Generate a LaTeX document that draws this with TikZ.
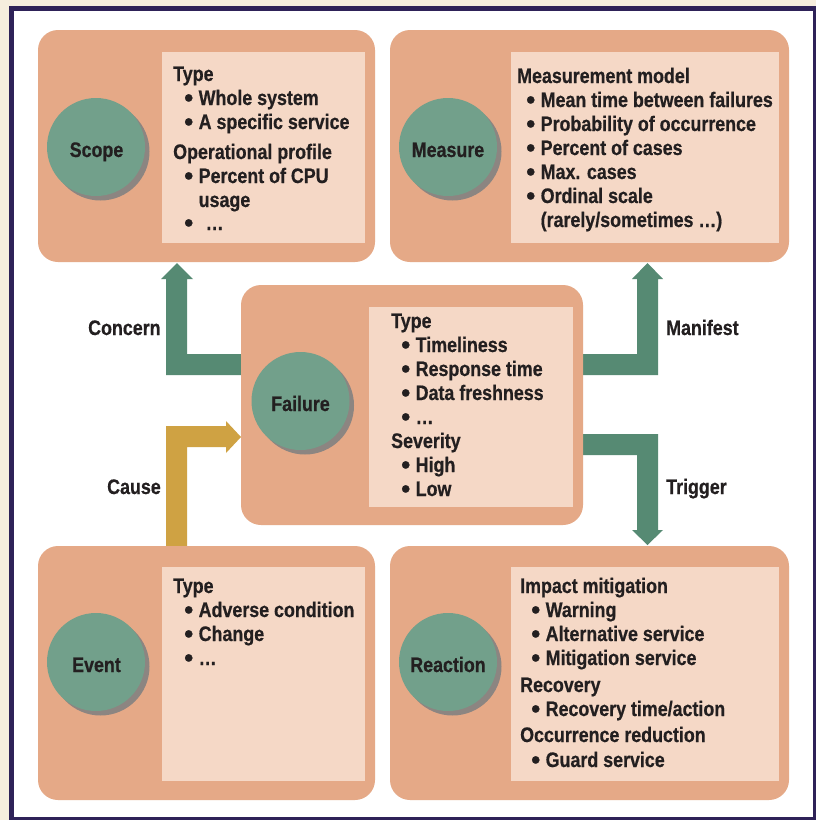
\documentclass[tikz,border=0pt]{standalone}
\usepackage{fontspec}
\usepackage{graphicx}
\setmainfont{Liberation Sans}[FakeStretch=0.85, BoldFeatures={FakeBold=0.6}]
\definecolor{frame}{HTML}{2E2258}
\definecolor{bgout}{HTML}{F6EEDE}
\definecolor{salmon}{HTML}{E5A987}
\definecolor{innerc}{HTML}{F5D8C6}
\definecolor{circc}{HTML}{72A08B}
\definecolor{shadc}{HTML}{8C8581}
\definecolor{garrow}{HTML}{568A73}
\definecolor{yarrow}{HTML}{CFA243}
\definecolor{txtc}{HTML}{231F20}
\tikzset{
  outerbox/.style={fill=salmon, rounded corners=20pt, inner sep=0pt, draw=none},
  innerbox/.style={fill=innerc, inner sep=0pt, draw=none},
  circnode/.style={circle, fill=circc, minimum size=98pt, inner sep=0pt},
  shadnode/.style={circle, fill=shadc, minimum size=98pt, inner sep=0pt},
  tx/.style={anchor=base west, inner sep=0pt, text=txtc, font=\fontsize{21}{24}\selectfont\bfseries},
  lbl/.style={anchor=base, inner sep=0pt, text=txtc, font=\fontsize{21}{24}\selectfont\bfseries},
  garr/.style={fill=garrow, draw=none},
  yarr/.style={fill=yarrow, draw=none}
}
\newcommand\bigbul{\raisebox{-1.6pt}{\scalebox{1.45}[1.25]{•}}}
\newcommand\hd[4]{\node[tx] (#1) at (#2,#3) {#4};}
\newcommand\bl[4]{\node[tx] (#1) at (#2,#3) {\makebox[14.5pt][l]{\bigbul}#4};}
\begin{document}
\begin{tikzpicture}[x=1pt,y=-1pt]
\useasboundingbox (0,0) rectangle (816,820);
\fill[bgout] (0,0) rectangle (816,820);
\fill[frame] (9,6) rectangle (816,820);
\fill[white] (14,11) rectangle (813,817);

% arrows (beneath boxes)
\fill[garr] (250,354) -- (187,354) -- (187,279) -- (193,279) -- (177,263) -- (161,279) -- (166,279) -- (166,375) -- (250,375) -- cycle;
\fill[garr] (575,354) -- (637,354) -- (637,279) -- (632,279) -- (647.5,263) -- (663,279) -- (658,279) -- (658,375) -- (575,375) -- cycle;
\fill[garr] (575,434) -- (658,434) -- (658,530) -- (663,530) -- (647.5,545) -- (632,530) -- (637,530) -- (637,455) -- (575,455) -- cycle;
\fill[yarr] (166,555) -- (166,426) -- (226,426) -- (226,421) -- (241,437) -- (226,453) -- (226,447) -- (187,447) -- (187,555) -- cycle;

% outer boxes
\node[outerbox, minimum width=337pt, minimum height=232pt] (scope) at (206.5,146) {};
\node[outerbox, minimum width=399pt, minimum height=232pt] (measure) at (589.5,146) {};
\node[outerbox, minimum width=342pt, minimum height=240pt] (failure) at (412,405) {};
\node[outerbox, minimum width=337pt, minimum height=254pt] (event) at (206.5,673) {};
\node[outerbox, minimum width=399pt, minimum height=254pt] (reaction) at (589.5,673) {};

% inner boxes
\node[innerbox, minimum width=203pt, minimum height=191pt] (scopei) at (263.5,147.5) {};
\node[innerbox, minimum width=268pt, minimum height=191pt] (measurei) at (645,147.5) {};
\node[innerbox, minimum width=204pt, minimum height=200pt] (failurei) at (471,407) {};
\node[innerbox, minimum width=203pt, minimum height=214pt] (eventi) at (263.5,674) {};
\node[innerbox, minimum width=268pt, minimum height=214pt] (reactioni) at (645,674) {};

% circles
\node[shadnode] (scopesh) at (100.5,151.5) {};
\node[circnode] (scopec) at (96,147) {};
\node[shadnode] (measuresh) at (452.5,151.5) {};
\node[circnode] (measurec) at (448,147) {};
\node[shadnode] (failuresh) at (305,405.5) {};
\node[circnode] (failurec) at (300.5,401) {};
\node[shadnode] (eventsh) at (100.5,666.5) {};
\node[circnode] (eventc) at (96,662) {};
\node[shadnode] (reactionsh) at (452.5,666.5) {};
\node[circnode] (reactionc) at (448,662) {};

\node[lbl] (scopel) at (96.5,157) {Scope};
\node[lbl] (measurel) at (448,157) {Measure};
\node[lbl] (failurel) at (300.5,411) {Failure};
\node[lbl] (eventl) at (96.5,672) {Event};
\node[lbl] (reactionl) at (448,672) {Reaction};

% arrow labels
\node[tx] (concernl) at (88,335) {Concern};
\node[tx] (manifestl) at (666,335) {Manifest};
\node[tx] (causel) at (107,494) {Cause};
\node[tx] (triggerl) at (666,494) {Trigger};

% scope text
\hd{s1}{173}{81}{Type}
\bl{s2}{184}{105}{Whole system}
\bl{s3}{184}{129}{A specific service}
\hd{s4}{173}{159}{Operational profile}
\bl{s5}{184}{183}{Percent of CPU}
\hd{s6}{198.5}{207}{usage}
\bl{s7}{184}{230}{\hspace{7pt}…}

% measure text
\hd{m1}{517}{83}{Measurement model}
\bl{m2}{526}{107}{Mean time between failures}
\bl{m3}{526}{131}{Probability of occurrence}
\bl{m4}{526}{155}{Percent of cases}
\bl{m5}{526}{179}{Max. cases}
\bl{m6}{526}{203}{Ordinal scale}
\hd{m7}{540.5}{227}{(rarely/sometimes …)}

% failure text
\hd{f1}{391}{328}{Type}
\bl{f2}{401}{352}{Timeliness}
\bl{f3}{401}{376}{Response time}
\bl{f4}{401}{400}{Data freshness}
\bl{f5}{401}{424}{…}
\hd{f6}{391}{448}{Severity}
\bl{f7}{401}{472}{High}
\bl{f8}{401}{496}{Low}

% event text
\hd{e1}{173}{593}{Type}
\bl{e2}{184}{617}{Adverse condition}
\bl{e3}{184}{641}{Change}
\bl{e4}{184}{665}{…}

% reaction text
\hd{r1}{520}{593}{Impact mitigation}
\bl{r2}{531}{617}{Warning}
\bl{r3}{531}{641}{Alternative service}
\bl{r4}{531}{665}{Mitigation service}
\hd{r5}{520}{692}{Recovery}
\bl{r6}{531}{716}{Recovery time/action}
\hd{r7}{520}{742}{Occurrence reduction}
\bl{r8}{531}{767}{Guard service}
\end{tikzpicture}
\end{document}
